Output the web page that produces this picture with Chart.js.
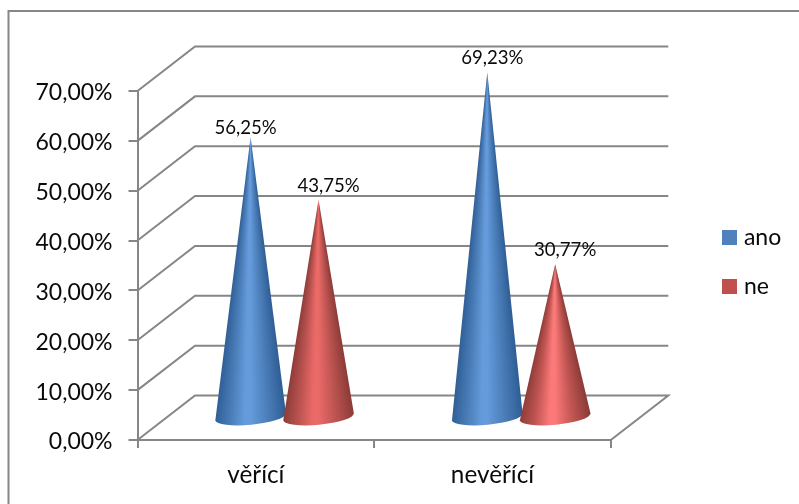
<!DOCTYPE html>
<html>
<head>
<meta charset="utf-8">
<script src="https://cdn.jsdelivr.net/npm/chart.js@4/dist/chart.umd.js"></script>
<style>
html,body{margin:0;padding:0;background:#fff}
#wrap{position:relative;width:799px;height:504px}
</style>
</head>
<body>
<div id="wrap"><canvas id="c" width="799" height="504"></canvas></div>
<script>
const categories = ["věřící", "nevěřící"];
const anoValues = [56.25, 69.23];
const neValues = [43.75, 30.77];
const tickStep = 10;
const tickMax = 70;

const FONT = "Lato, Carlito, sans-serif";
const GREY = "#868686";
const TEXT = "#0a0a0a";

// Oblique projection: how far the back wall sits from the front plane
const DEPTH = { x: 57.5, y: -44.5 };
// Data labels sit slightly off their cone tips
const labelNudge = [[{ x: -5, y: -9.5 }, { x: 5, y: -14.5 }], [{ x: 10, y: -13.5 }, { x: 10, y: -14.5 }]];
// Shading of each cone around its tip: edge, mid, highlight
const coneShades = [
  [["#2f5e95", "#4a7db8", "#659bdb"], ["#2f5e95", "#4a7db8", "#659bdb"]],
  [["#8c3b38", "#bb5350", "#ea6a68"], ["#8c3b38", "#c05552", "#fb7978"]]
];

const fmt = v => v.toFixed(2).replace(".", ",") + "%";

function legendSwatch(color) {
  const s = document.createElement("canvas");
  s.width = 15; s.height = 15;
  const g = s.getContext("2d");
  g.fillStyle = color;
  g.fillRect(0, 0, 15, 15);
  return s;
}

function drawCone(ctx, el, shades) {
  const cx = el.x + DEPTH.x / 2;
  const baseY = el.base + DEPTH.y / 2;
  const tipY = el.y + DEPTH.y / 2;
  const rx = el.width / 2 + 1.5, ry = 8, tilt = -0.096;
  const ex = rx * Math.cos(tilt), ey = rx * Math.sin(tilt);

  ctx.beginPath();
  ctx.moveTo(cx, tipY);
  ctx.lineTo(cx + ex, baseY + ey);
  ctx.ellipse(cx, baseY, rx, ry, tilt, 0, Math.PI);
  ctx.closePath();

  // Shade by angle around the tip so the bands narrow towards it
  const margin = 0.03;
  const right = Math.atan2(baseY - tipY, rx);
  const span = Math.PI - 2 * right;
  const g = ctx.createConicGradient(right - margin, cx, tipY);
  const at = t => (margin + (1 - t) * span) / (2 * Math.PI);
  g.addColorStop(0, shades[0]);
  g.addColorStop(at(1), shades[0]);
  g.addColorStop(at(0.75), shades[1]);
  g.addColorStop(at(0.5), shades[2]);
  g.addColorStop(at(0.42), shades[2]);
  g.addColorStop(at(0.22), shades[1]);
  g.addColorStop(at(0), shades[0]);
  g.addColorStop(1, shades[0]);
  ctx.fillStyle = g;
  ctx.fill();
}

const scene = {
  id: "scene",
  afterLayout(chart) {
    // Fixed place for the legend, right of the plot
    const l = chart.legend;
    const h = l.bottom - l.top;
    l.left = 701; l.right = 799; l.top = 200; l.bottom = 200 + h;
  },
  beforeDraw(chart) {
    // Frame: only its left and top edges fall on the canvas
    const { ctx, width, height } = chart;
    ctx.save();
    ctx.strokeStyle = GREY;
    ctx.lineWidth = 2;
    ctx.beginPath();
    ctx.moveTo(8.5, height);
    ctx.lineTo(8.5, 11);
    ctx.lineTo(width, 11);
    ctx.stroke();
    ctx.restore();
  },
  beforeDatasetsDraw(chart) {
    // Side wall, back wall and floor in the oblique view
    const { ctx, chartArea: a, scales: { y } } = chart;
    ctx.save();
    ctx.strokeStyle = GREY;
    ctx.lineWidth = 2;
    ctx.lineJoin = "miter";
    y.ticks.forEach(t => {
      const p = y.getPixelForValue(t.value);
      ctx.beginPath();
      ctx.moveTo(a.left, p);
      ctx.lineTo(a.left + DEPTH.x, p + DEPTH.y);
      ctx.lineTo(a.right + DEPTH.x, p + DEPTH.y);
      if (t.value === 0) ctx.lineTo(a.right, p);
      ctx.stroke();
    });
    ctx.restore();
  },
  beforeDatasetDraw() {
    // Bars are replaced by cones, drawn together afterwards
    return false;
  },
  afterDatasetsDraw(chart) {
    const { ctx } = chart;
    ctx.save();
    chart.data.datasets.forEach((ds, i) => {
      chart.getDatasetMeta(i).data.forEach((el, j) => drawCone(ctx, el, coneShades[i][j]));
    });
    ctx.font = "18.6px " + FONT;
    ctx.fillStyle = TEXT;
    ctx.textAlign = "center";
    ctx.textBaseline = "middle";
    chart.data.datasets.forEach((ds, i) => {
      chart.getDatasetMeta(i).data.forEach((el, j) => {
        const n = labelNudge[i][j];
        ctx.fillText(fmt(ds.data[j]), el.x + DEPTH.x / 2 + n.x, el.y + DEPTH.y / 2 + n.y);
      });
    });
    ctx.restore();
  }
};

new Chart(document.getElementById("c"), {
  type: "bar",
  data: {
    labels: categories,
    datasets: [
      { label: "ano", data: anoValues, backgroundColor: "#4f81bd" },
      { label: "ne", data: neValues, backgroundColor: "#c0504d" }
    ]
  },
  plugins: [scene],
  options: {
    responsive: false,
    animation: false,
    layout: { padding: { top: 91, right: 98, bottom: 0, left: 0 } },
    datasets: { bar: { categoryPercentage: 0.574, barPercentage: 1 } },
    plugins: {
      tooltip: { enabled: false },
      legend: {
        position: "right",
        align: "start",
        labels: {
          font: { family: FONT, size: 23 },
          color: TEXT,
          padding: 26,
          usePointStyle: true,
          pointStyleWidth: 5.4,
          generateLabels: c => c.data.datasets.map((d, i) => ({
            text: d.label,
            datasetIndex: i,
            pointStyle: legendSwatch(d.backgroundColor),
            fontColor: TEXT
          }))
        }
      }
    },
    scales: {
      x: {
        afterFit(s) { s.height = 64; },
        grid: { drawOnChartArea: false, color: GREY, lineWidth: 2, tickLength: 8, tickColor: GREY },
        border: { color: GREY, width: 2 },
        ticks: { color: TEXT, font: { family: FONT, size: 24.3 }, padding: 13, maxRotation: 0 }
      },
      y: {
        min: 0,
        max: tickMax,
        afterFit(s) { s.width = 137.5; },
        grid: { drawOnChartArea: false, color: GREY, lineWidth: 2, tickLength: 9, tickColor: GREY },
        border: { color: GREY, width: 2 },
        ticks: {
          stepSize: tickStep,
          color: TEXT,
          font: { family: FONT, size: 23 },
          padding: 16,
          labelOffset: 2,
          callback: v => fmt(v)
        }
      }
    }
  }
});
</script>
</body>
</html>
